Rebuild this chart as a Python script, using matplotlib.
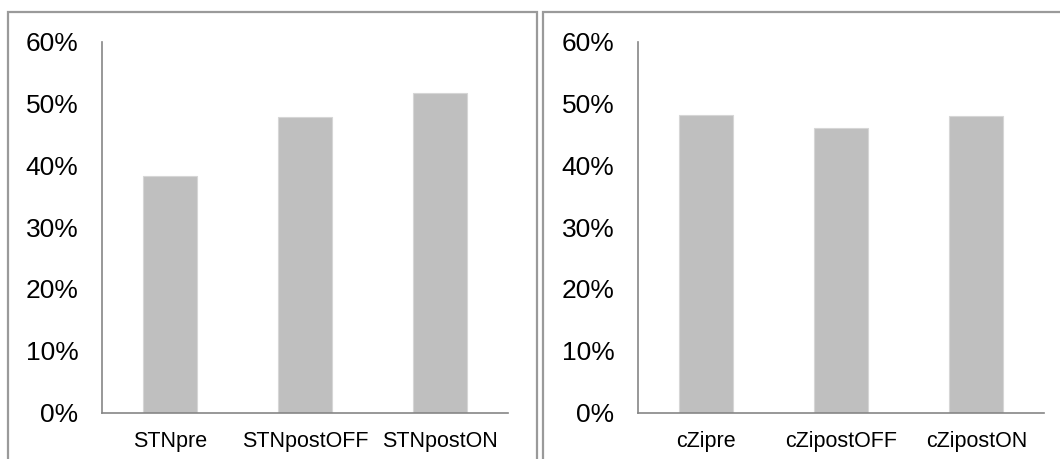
import numpy as np
import matplotlib.pyplot as plt
from matplotlib.patches import Rectangle
from matplotlib.ticker import PercentFormatter

plt.rcParams["font.family"] = ["Liberation Sans", "DejaVu Sans"]

stn_labels = ["STNpre", "STNpostOFF", "STNpostON"]
stn_values = [0.383, 0.478, 0.517]
czi_labels = ["cZipre", "cZipostOFF", "cZipostON"]
czi_values = [0.482, 0.461, 0.479]

W, H = 1060, 459
fig = plt.figure(figsize=(W / 100, H / 100), dpi=100)

# panel frames (open at the bottom / right like the cropped original)
for x0, x1 in [(8, 537), (543, 1200)]:
    fig.patches.append(Rectangle((x0 / W, -0.2), (x1 - x0) / W, 0.2 + (H - 12) / H,
                                 transform=fig.transFigure, fill=False,
                                 edgecolor="#9a9a9a", linewidth=1.6))

bottom = (H - 412.5) / H
height = (412.5 - 41.7) / H
width = 406 / W
panels = [(102 / W, stn_labels, stn_values), (638 / W, czi_labels, czi_values)]

for left, labels, values in panels:
    ax = fig.add_axes([left, bottom, width, height])
    x = np.arange(len(labels))
    ax.bar(x, values, width=0.4, color="#bfbfbf", edgecolor="#d6d6d6", linewidth=0.8)
    ax.set_xlim(-0.5, len(labels) - 0.5)
    ax.set_ylim(0, 0.6)
    ax.set_yticks(np.arange(0, 0.61, 0.1))
    ax.yaxis.set_major_formatter(PercentFormatter(1.0, decimals=0))
    ax.set_xticks(x)
    ax.set_xticklabels(labels, fontsize=15.5)
    ax.tick_params(axis="y", length=0, pad=17, labelsize=19)
    ax.tick_params(axis="x", length=0, pad=13)
    ax.spines["top"].set_visible(False)
    ax.spines["right"].set_visible(False)
    for s in ["left", "bottom"]:
        ax.spines[s].set_color("#868686")
        ax.spines[s].set_linewidth(1.2)

fig.savefig("out.png", dpi=100)
